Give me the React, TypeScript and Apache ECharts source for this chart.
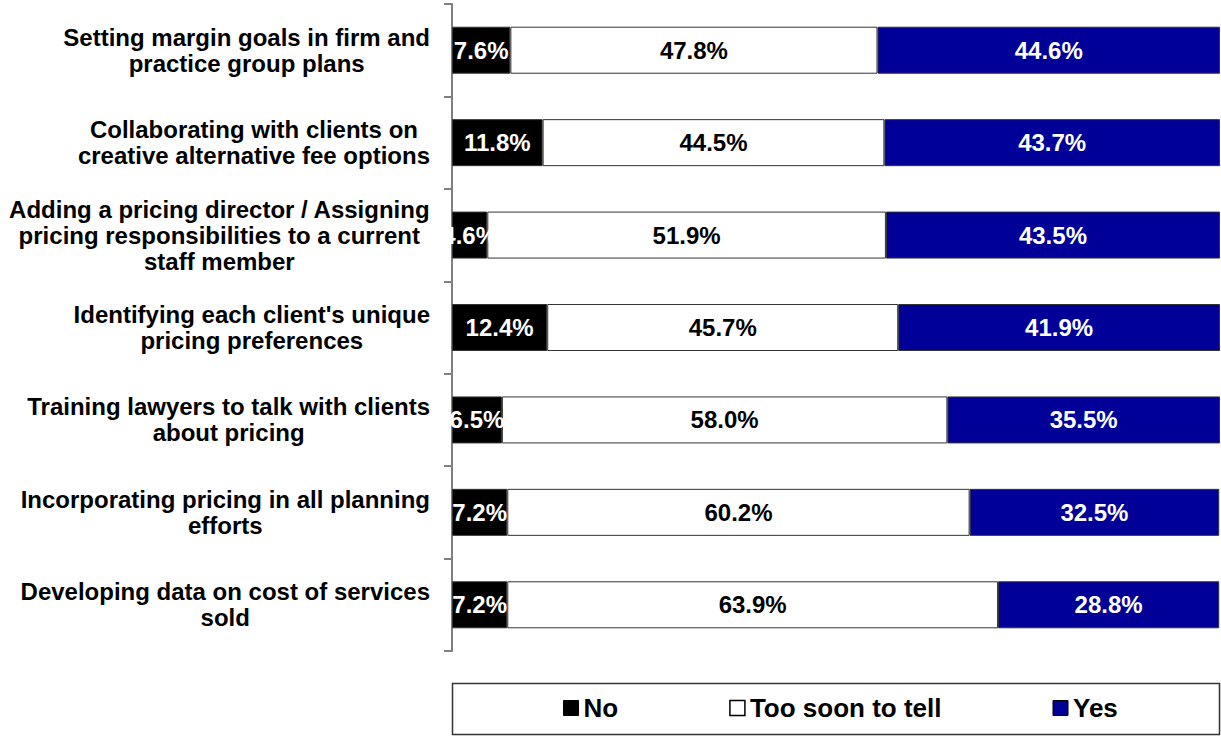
import React, { useEffect, useRef } from "react";
import * as echarts from "echarts";

const categories = [
  "Setting margin goals in firm and\npractice group plans",
  "Collaborating with clients on\ncreative alternative fee options",
  "Adding a pricing director / Assigning\npricing responsibilities to a current\nstaff member",
  "Identifying each client's unique\npricing preferences",
  "Training lawyers to talk with clients\nabout pricing",
  "Incorporating pricing in all planning\nefforts",
  "Developing data on cost of services\nsold",
];
const noValues = [7.6, 11.8, 4.6, 12.4, 6.5, 7.2, 7.2];
const tooSoonValues = [47.8, 44.5, 51.9, 45.7, 58.0, 60.2, 63.9];
const yesValues = [44.6, 43.7, 43.5, 41.9, 35.5, 32.5, 28.8];
const seriesNames = ["No", "Too soon to tell", "Yes"];

const FONT = "'Liberation Sans', Arial, sans-serif";

export default function App() {
  const ref = useRef<HTMLDivElement>(null);
  useEffect(() => {
    document.body.style.margin = "0";
    const chart = echarts.init(ref.current!, null, { renderer: "svg" });
    const labelBase = {
      show: true,
      position: "inside" as const,
      fontFamily: FONT,
      fontWeight: "bold" as const,
      fontSize: 24,
      formatter: (p: any) => `${Number(p.value).toFixed(1)}%`,
    };
    const mk = (name: string, data: number[], color: string, labelColor: string) => ({
      name,
      type: "bar",
      stack: "total",
      data,
      barWidth: 47,
      itemStyle: { color, borderColor: "#333", borderWidth: 1 },
      label: { ...labelBase, color: labelColor },
      emphasis: { disabled: true },
    });
    chart.setOption({
      animation: false,
      textStyle: { fontFamily: FONT },
      grid: { left: 452, right: 1, top: 4, bottom: 85, containLabel: false },
      xAxis: { type: "value", min: 0, max: 100, show: false },
      yAxis: {
        type: "category",
        inverse: true,
        data: categories,
        axisLine: { show: true, lineStyle: { color: "#808080", width: 2 } },
        axisTick: { show: true, length: 8, lineStyle: { color: "#808080", width: 2 } },
        splitLine: { show: false },
        axisLabel: {
          margin: 22,
          formatter: (v: string) =>
            v
              .split("\n")
              .map((l) => `{c|${l}}`)
              .join("\n"),
          rich: {
            c: {
              align: "center",
              fontFamily: FONT,
              fontWeight: "bold",
              fontSize: 24,
              lineHeight: 26,
              color: "#000",
            },
          },
        },
      },
      legend: {
        data: [
          { name: "No", itemStyle: { color: "#000", borderColor: "#000", borderWidth: 1 } },
          { name: "Too soon to tell", itemStyle: { color: "#fff", borderColor: "#000", borderWidth: 1.5 } },
          { name: "Yes", itemStyle: { color: "#000099", borderColor: "#000", borderWidth: 1 } },
        ],
        left: 563,
        top: 695,
        padding: 0,
        icon: "rect",
        itemWidth: 15,
        itemHeight: 15,
        itemGap: 111,
        textStyle: { fontFamily: FONT, fontWeight: "bold", fontSize: 26, color: "#000" },
      },
      graphic: [
        {
          type: "rect",
          shape: { x: 452.5, y: 683.5, width: 767, height: 51 },
          style: { fill: "none", stroke: "#333", lineWidth: 1.5 },
          z: -1,
        },
      ],
      series: [
        mk(seriesNames[0], noValues, "#000000", "#fff"),
        mk(seriesNames[1], tooSoonValues, "#ffffff", "#000"),
        mk(seriesNames[2], yesValues, "#000099", "#fff"),
      ],
    });
    return () => chart.dispose();
  }, []);
  return <div ref={ref} style={{ width: 1221, height: 736 }} />;
}
